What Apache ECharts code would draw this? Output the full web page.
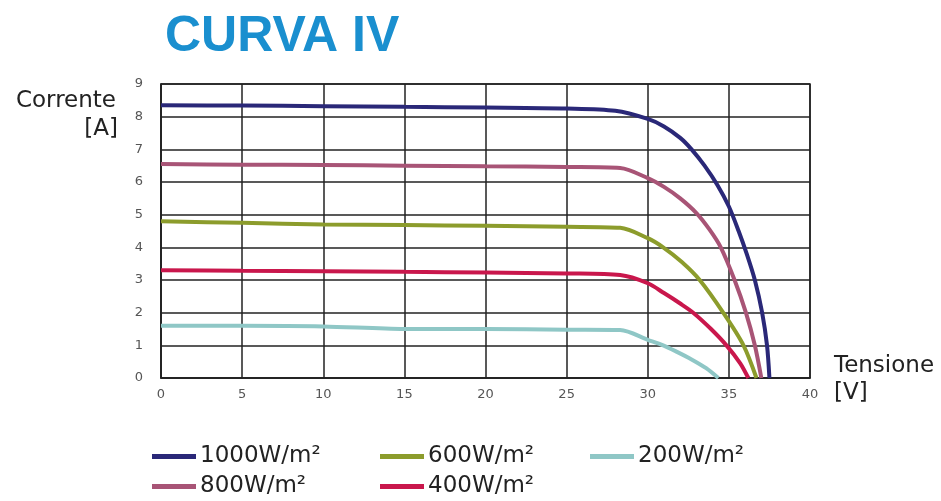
<!DOCTYPE html>
<html>
<head>
<meta charset="utf-8">
<title>Curva IV</title>
<script src="https://cdn.jsdelivr.net/npm/echarts@6/dist/echarts.min.js"></script>
<style>
  html, body { margin: 0; padding: 0; background: #fff; }
  #chart { width: 941px; height: 501px; }
</style>
</head>
<body>
<div id="chart"></div>
<script>
// tick labels
const xTicks = [0, 5, 10, 15, 20, 25, 30, 35, 40];
const yTicks = [0, 1, 2, 3, 4, 5, 6, 7, 8, 9];

// curve 1000 W/m2
const volt1000 = [0, 5, 10, 15, 20, 25, 28, 30, 31, 32, 32.7, 33.5, 34.3, 35.0, 35.6, 36.1, 36.6, 37.05, 37.35, 37.5];
const amp1000 = [8.35, 8.34, 8.32, 8.3, 8.28, 8.25, 8.18, 7.93, 7.7, 7.35, 7.0, 6.5, 5.9, 5.25, 4.5, 3.8, 3.0, 2.0, 1.0, 0];
// curve 800 W/m2
const volt800 = [0, 5, 10, 15, 20, 25, 28.3, 30, 31, 32, 33, 33.8, 34.5, 35.35, 36.05, 36.6, 37.0];
const amp800 = [6.55, 6.53, 6.52, 6.5, 6.48, 6.46, 6.43, 6.12, 5.85, 5.5, 5.05, 4.55, 4.0, 3.0, 2.0, 1.0, 0];
// curve 600 W/m2
const volt600 = [0, 5, 10, 15, 20, 25, 28.3, 30, 30.95, 32.1, 33.2, 34.65, 35.9, 36.7];
const amp600 = [4.8, 4.75, 4.7, 4.68, 4.66, 4.63, 4.6, 4.28, 4.0, 3.55, 3.0, 2.0, 1.0, 0];
// curve 400 W/m2
const volt400 = [0, 5, 10, 15, 20, 25, 28.3, 30, 31, 32, 32.8, 33.9, 34.85, 35.7, 36.2];
const amp400 = [3.3, 3.28, 3.27, 3.25, 3.23, 3.2, 3.15, 2.9, 2.6, 2.28, 2.0, 1.5, 1.0, 0.45, 0];
// curve 200 W/m2
const volt200 = [0, 5, 10, 15, 20, 25, 28.3, 30, 30.95, 31.8, 32.7, 33.6, 34.35];
const amp200 = [1.6, 1.6, 1.58, 1.5, 1.5, 1.48, 1.47, 1.17, 1.0, 0.8, 0.57, 0.3, 0];

const names = ['1000W/m²', '800W/m²', '600W/m²', '400W/m²', '200W/m²'];
const colors = ['#2a2878', '#a85476', '#8c9c2c', '#c9174c', '#8fc7c6'];
const volts = [volt1000, volt800, volt600, volt400, volt200];
const amps = [amp1000, amp800, amp600, amp400, amp200];

const pair = (xs, ys) => xs.map((x, i) => [x, ys[i]]);

const series = names.map((name, k) => ({
  name,
  type: 'line',
  smooth: 0.3,
  showSymbol: false,
  color: colors[k],
  lineStyle: { width: 4, color: colors[k] },
  data: pair(volts[k], amps[k]),
}));

// legend slots: [name index, left, top]
const legendSlots = [[0, 152, 445], [2, 380, 445], [4, 590, 445], [1, 152, 475], [3, 380, 475]];

const chart = echarts.init(document.getElementById('chart'));
chart.setOption({
  animation: false,
  title: {
    text: 'CURVA IV',
    left: 160,
    top: 7,
    textStyle: {
      color: '#1a8fcf',
      fontSize: 50,
      fontWeight: 900,
      fontFamily: 'Liberation Sans',
    },
  },
  legend: legendSlots.map(([k, left, top]) => ({
    data: [names[k]],
    left,
    top,
    padding: 0,
    icon: 'rect',
    itemWidth: 44,
    itemHeight: 5,
    itemGap: 0,
    textStyle: { fontSize: 23, color: '#222', fontFamily: 'DejaVu Sans', padding: [0, 0, 0, -1] },
  })),
  grid: { left: 161, right: 131, top: 84, bottom: 123 },
  xAxis: {
    type: 'value',
    min: 0,
    max: 40,
    interval: 5,
    axisLine: { show: true, lineStyle: { color: '#222', width: 1.5 } },
    axisTick: { show: false },
    axisLabel: { color: '#555', fontSize: 13, margin: 10, fontFamily: 'DejaVu Sans',
      formatter: (v) => (xTicks.includes(v) ? String(v) : '') },
    splitLine: { show: true, lineStyle: { color: '#222', width: 1.5 } },
  },
  yAxis: {
    type: 'value',
    min: 0,
    max: 9,
    interval: 1,
    axisLine: { show: true, lineStyle: { color: '#222', width: 1.5 } },
    axisTick: { show: false },
    axisLabel: { color: '#555', fontSize: 13, margin: 18, fontFamily: 'DejaVu Sans',
      formatter: (v) => (yTicks.includes(v) ? String(v) : '') },
    splitLine: { show: true, lineStyle: { color: '#222', width: 1.5 } },
  },
  graphic: [
    { type: 'rect', shape: { x: 161, y: 84, width: 649, height: 294 }, style: { fill: 'none', stroke: '#222', lineWidth: 1.5 }, z: 1 },
    { type: 'text', right: 941 - 116, top: 90, style: { text: 'Corrente', fontSize: 23, fill: '#222', fontFamily: 'DejaVu Sans', align: 'right' } },
    { type: 'text', right: 941 - 118, top: 118, style: { text: '[A]', fontSize: 23, fill: '#222', fontFamily: 'DejaVu Sans', align: 'right' } },
    { type: 'text', left: 834, top: 355, style: { text: 'Tensione', fontSize: 23, fill: '#222', fontFamily: 'DejaVu Sans' } },
    { type: 'text', left: 834, top: 382, style: { text: '[V]', fontSize: 23, fill: '#222', fontFamily: 'DejaVu Sans' } },
  ],
  series,
});
</script>
</body>
</html>
